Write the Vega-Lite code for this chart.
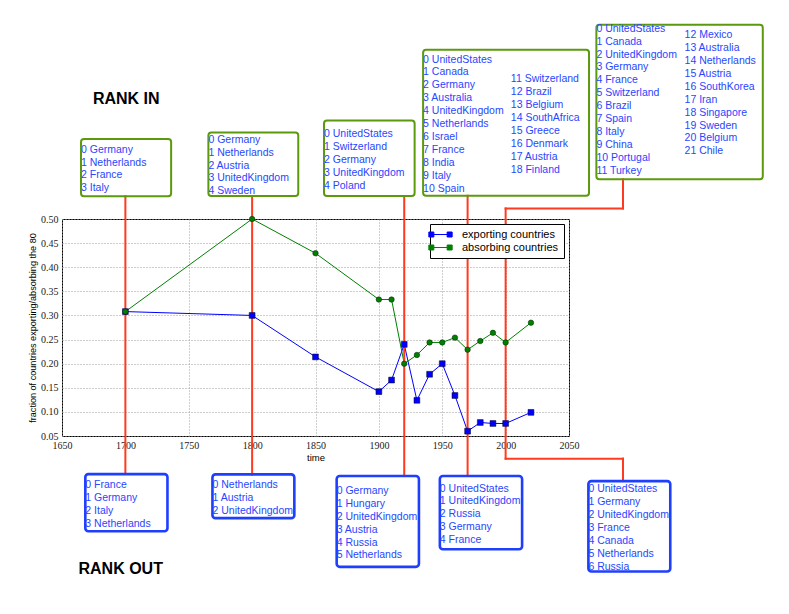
{
  "$schema": "https://vega.github.io/schema/vega-lite/v6.json",
  "width": 507,
  "height": 217,
  "autosize": {"type": "none"},
  "padding": {"left": 62, "top": 219, "right": 220, "bottom": 178},
  "background": "white",
  "config": {
    "view": {"stroke": "#000000", "strokeWidth": 1},
    "axis": {
      "domain": false,
      "ticks": false,
      "grid": true,
      "gridDash": [1, 2],
      "gridColor": "#9a9a9a",
      "gridWidth": 1,
      "labelFont": "Liberation Serif",
      "labelFontSize": 10,
      "labelColor": "#222222",
      "labelFlush": false,
      "labelOverlap": false,
      "titleFont": "Liberation Sans",
      "titleFontWeight": "normal",
      "titleColor": "#000000"
    }
  },
  "datasets": {
    "series": [
      {"year": 1700, "series": "exporting countries", "fraction": 0.308},
      {"year": 1800, "series": "exporting countries", "fraction": 0.300},
      {"year": 1850, "series": "exporting countries", "fraction": 0.214},
      {"year": 1900, "series": "exporting countries", "fraction": 0.142},
      {"year": 1910, "series": "exporting countries", "fraction": 0.166},
      {"year": 1920, "series": "exporting countries", "fraction": 0.240},
      {"year": 1930, "series": "exporting countries", "fraction": 0.124},
      {"year": 1940, "series": "exporting countries", "fraction": 0.178},
      {"year": 1950, "series": "exporting countries", "fraction": 0.200},
      {"year": 1960, "series": "exporting countries", "fraction": 0.134},
      {"year": 1970, "series": "exporting countries", "fraction": 0.060},
      {"year": 1980, "series": "exporting countries", "fraction": 0.078},
      {"year": 1990, "series": "exporting countries", "fraction": 0.076},
      {"year": 2000, "series": "exporting countries", "fraction": 0.076},
      {"year": 2020, "series": "exporting countries", "fraction": 0.099},
      {"year": 1700, "series": "absorbing countries", "fraction": 0.308},
      {"year": 1800, "series": "absorbing countries", "fraction": 0.500},
      {"year": 1850, "series": "absorbing countries", "fraction": 0.429},
      {"year": 1900, "series": "absorbing countries", "fraction": 0.333},
      {"year": 1910, "series": "absorbing countries", "fraction": 0.333},
      {"year": 1920, "series": "absorbing countries", "fraction": 0.200},
      {"year": 1930, "series": "absorbing countries", "fraction": 0.218},
      {"year": 1940, "series": "absorbing countries", "fraction": 0.244},
      {"year": 1950, "series": "absorbing countries", "fraction": 0.244},
      {"year": 1960, "series": "absorbing countries", "fraction": 0.254},
      {"year": 1970, "series": "absorbing countries", "fraction": 0.229},
      {"year": 1980, "series": "absorbing countries", "fraction": 0.247},
      {"year": 1990, "series": "absorbing countries", "fraction": 0.264},
      {"year": 2000, "series": "absorbing countries", "fraction": 0.244},
      {"year": 2020, "series": "absorbing countries", "fraction": 0.285}
    ],
    "boxes": [
      {"box": "in-1700", "kind": "in", "x_from": 1665.0, "x_to": 1736.1, "top": 0.6661, "bottom": 0.5471},
      {"box": "in-1800", "kind": "in", "x_from": 1765.5, "x_to": 1836.4, "top": 0.6792, "bottom": 0.5478},
      {"box": "in-1920", "kind": "in", "x_from": 1856.7, "x_to": 1928.2, "top": 0.7042, "bottom": 0.5478},
      {"box": "in-1970", "kind": "in", "x_from": 1934.9, "x_to": 2065.8, "top": 0.8510, "bottom": 0.5484},
      {"box": "in-2000", "kind": "in", "x_from": 2071.6, "x_to": 2202.9, "top": 0.9029, "bottom": 0.5824},
      {"box": "out-1700", "kind": "out", "x_from": 1668.4, "x_to": 1733.2, "top": -0.0290, "bottom": -0.1474},
      {"box": "out-1800", "kind": "out", "x_from": 1768.7, "x_to": 1833.3, "top": -0.0296, "bottom": -0.1204},
      {"box": "out-1920", "kind": "out", "x_from": 1866.7, "x_to": 1931.6, "top": -0.0331, "bottom": -0.2213},
      {"box": "out-1970", "kind": "out", "x_from": 1948.1, "x_to": 2013.0, "top": -0.0331, "bottom": -0.1847},
      {"box": "out-2000", "kind": "out", "x_from": 2065.3, "x_to": 2129.9, "top": -0.0435, "bottom": -0.2311}
    ],
    "lists": [
      {"box": "in-1700", "list_year": 1665.0, "list_value": 0.6375, "entries": "0 Germany\n1 Netherlands\n2 France\n3 Italy"},
      {"box": "in-1800", "list_year": 1765.5, "list_value": 0.6582, "entries": "0 Germany\n1 Netherlands\n2 Austria\n3 UnitedKingdom\n4 Sweden"},
      {"box": "in-1920", "list_year": 1856.7, "list_value": 0.6701, "entries": "0 UnitedStates\n1 Switzerland\n2 Germany\n3 UnitedKingdom\n4 Poland"},
      {"box": "in-1970", "list_year": 1934.9, "list_value": 0.8244, "entries": "0 UnitedStates\n1 Canada\n2 Germany\n3 Australia\n4 UnitedKingdom\n5 Netherlands\n6 Israel\n7 France\n8 India\n9 Italy\n10 Spain"},
      {"box": "in-1970", "list_year": 2004.1, "list_value": 0.7835, "entries": "11 Switzerland\n12 Brazil\n13 Belgium\n14 SouthAfrica\n15 Greece\n16 Denmark\n17 Austria\n18 Finland"},
      {"box": "in-2000", "list_year": 2071.6, "list_value": 0.8882, "entries": "0 UnitedStates\n1 Canada\n2 UnitedKingdom\n3 Germany\n4 France\n5 Switzerland\n6 Brazil\n7 Spain\n8 Italy\n9 China\n10 Portugal\n11 Turkey"},
      {"box": "in-2000", "list_year": 2141.2, "list_value": 0.8749, "entries": "12 Mexico\n13 Australia\n14 Netherlands\n15 Austria\n16 SouthKorea\n17 Iran\n18 Singapore\n19 Sweden\n20 Belgium\n21 Chile"},
      {"box": "out-1700", "list_year": 1668.4, "list_value": -0.0576, "entries": "0 France\n1 Germany\n2 Italy\n3 Netherlands"},
      {"box": "out-1800", "list_year": 1768.7, "list_value": -0.0576, "entries": "0 Netherlands\n1 Austria\n2 UnitedKingdom"},
      {"box": "out-1920", "list_year": 1866.7, "list_value": -0.0701, "entries": "0 Germany\n1 Hungary\n2 UnitedKingdom\n3 Austria\n4 Russia\n5 Netherlands"},
      {"box": "out-1970", "list_year": 1948.1, "list_value": -0.0651, "entries": "0 UnitedStates\n1 UnitedKingdom\n2 Russia\n3 Germany\n4 France"},
      {"box": "out-2000", "list_year": 2065.3, "list_value": -0.0666, "entries": "0 UnitedStates\n1 Germany\n2 UnitedKingdom\n3 France\n4 Canada\n5 Netherlands\n6 Russia"}
    ],
    "connectors": [
      {"link": "1700", "year_a": 1700, "year_b": 1700, "value_a": 0.5471, "value_b": -0.0290},
      {"link": "1800", "year_a": 1800, "year_b": 1800, "value_a": 0.5478, "value_b": -0.0296},
      {"link": "1920", "year_a": 1920, "year_b": 1920, "value_a": 0.5478, "value_b": -0.0331},
      {"link": "1970", "year_a": 1970, "year_b": 1970, "value_a": 0.5484, "value_b": -0.0331},
      {"link": "2000", "year_a": 2092.6, "year_b": 2092.6, "value_a": 0.5824, "value_b": 0.5218},
      {"link": "2000", "year_a": 2092.6, "year_b": 2000, "value_a": 0.5218, "value_b": 0.5218},
      {"link": "2000", "year_a": 2000, "year_b": 2000, "value_a": 0.5218, "value_b": 0.0030},
      {"link": "2000", "year_a": 2000, "year_b": 2092.6, "value_a": 0.0030, "value_b": 0.0030},
      {"link": "2000", "year_a": 2092.6, "year_b": 2092.6, "value_a": 0.0030, "value_b": -0.0435}
    ],
    "headings": [
      {"heading": "RANK IN", "year": 1700.7, "fraction": 0.7486},
      {"heading": "RANK OUT", "year": 1696.3, "fraction": -0.2255}
    ]
  },
  "layer": [
    {
      "data": {"name": "series"},
      "mark": {"type": "line", "strokeWidth": 1},
      "encoding": {
        "x": {"field": "year", "type": "quantitative", "title": "time", "scale": {"domain": [1650, 2050], "nice": false, "zero": false},
              "axis": {"values": [1650, 1700, 1750, 1800, 1850, 1900, 1950, 2000, 2050], "tickCount": 12, "format": "d", "titleFontSize": 9.5, "labelPadding": 4, "titlePadding": 2, "labelOverlap": false}},
        "y": {"field": "fraction", "type": "quantitative", "title": "fraction of countries exporting/absorbing the 80", "scale": {"domain": [0.05, 0.5], "nice": false, "zero": false},
              "axis": {"values": [0.05, 0.1, 0.15, 0.2, 0.25, 0.3, 0.35, 0.4, 0.45, 0.5], "tickCount": 12, "format": ".2f", "titleFontSize": 9.1, "labelPadding": 4, "titlePadding": 3, "labelOverlap": false}},
        "color": {"field": "series", "type": "nominal",
          "scale": {"domain": ["exporting countries", "absorbing countries"], "range": ["#0000ff", "#008000"]},
          "legend": {
            "title": null, "orient": "top-right", "offset": 5,
            "fillColor": "white", "strokeColor": "black", "padding": 5,
            "labelFont": "Liberation Sans", "labelFontSize": 11, "labelColor": "black",
            "symbolSize": 100, "rowPadding": 1, "labelOffset": 16,
            "symbolType": "M-1.83,0H1.83M-2.33,-0.5h1v1h-1zM1.33,-0.5h1v1h-1z",
            "symbolStrokeWidth": 1
          }
        }
      }
    },
    {
      "data": {"name": "connectors"},
      "mark": {"type": "rule", "color": "#ff3b1f", "strokeWidth": 2, "strokeCap": "square"},
      "encoding": {
        "x": {"field": "year_a", "type": "quantitative", "title": "time", "scale": {"domain": [1650, 2050], "nice": false, "zero": false}},
        "x2": {"field": "year_b"},
        "y": {"field": "value_a", "type": "quantitative", "title": "fraction of countries exporting/absorbing the 80", "scale": {"domain": [0.05, 0.5], "nice": false, "zero": false}},
        "y2": {"field": "value_b"}
      }
    },
    {
      "data": {"name": "series"},
      "transform": [{"filter": "datum.series === 'exporting countries'"}],
      "mark": {"type": "point", "shape": "square", "filled": true, "opacity": 1, "stroke": "#000020", "strokeWidth": 0.5, "size": 34},
      "encoding": {
        "x": {"field": "year", "type": "quantitative", "title": "time", "scale": {"domain": [1650, 2050], "nice": false, "zero": false}},
        "y": {"field": "fraction", "type": "quantitative", "title": "fraction of countries exporting/absorbing the 80", "scale": {"domain": [0.05, 0.5], "nice": false, "zero": false}},
        "color": {"field": "series", "type": "nominal"}
      }
    },
    {
      "data": {"name": "series"},
      "transform": [{"filter": "datum.series === 'absorbing countries'"}],
      "mark": {"type": "point", "shape": "circle", "filled": true, "opacity": 1, "stroke": "#002000", "strokeWidth": 0.5, "size": 30},
      "encoding": {
        "x": {"field": "year", "type": "quantitative", "title": "time", "scale": {"domain": [1650, 2050], "nice": false, "zero": false}},
        "y": {"field": "fraction", "type": "quantitative", "title": "fraction of countries exporting/absorbing the 80", "scale": {"domain": [0.05, 0.5], "nice": false, "zero": false}},
        "color": {"field": "series", "type": "nominal"}
      }
    },
    {
      "data": {"name": "boxes"},
      "transform": [{"filter": "datum.kind === 'in'"}],
      "mark": {"type": "rect", "filled": false, "stroke": "#5b9a0c", "strokeWidth": 2, "cornerRadius": 3},
      "encoding": {
        "x": {"field": "x_from", "type": "quantitative", "title": "time", "scale": {"domain": [1650, 2050], "nice": false, "zero": false}},
        "x2": {"field": "x_to"},
        "y": {"field": "top", "type": "quantitative", "title": "fraction of countries exporting/absorbing the 80", "scale": {"domain": [0.05, 0.5], "nice": false, "zero": false}},
        "y2": {"field": "bottom"}
      }
    },
    {
      "data": {"name": "boxes"},
      "transform": [{"filter": "datum.kind === 'out'"}],
      "mark": {"type": "rect", "filled": false, "stroke": "#1f3fff", "strokeWidth": 2.6, "cornerRadius": 3},
      "encoding": {
        "x": {"field": "x_from", "type": "quantitative", "title": "time", "scale": {"domain": [1650, 2050], "nice": false, "zero": false}},
        "x2": {"field": "x_to"},
        "y": {"field": "top", "type": "quantitative", "title": "fraction of countries exporting/absorbing the 80", "scale": {"domain": [0.05, 0.5], "nice": false, "zero": false}},
        "y2": {"field": "bottom"}
      }
    },
    {
      "data": {"name": "lists"},
      "mark": {"type": "text", "align": "left", "baseline": "alphabetic", "lineBreak": "\n", "lineHeight": 12.9, "font": "Liberation Sans", "fontSize": 10.5, "color": "#2846ff"},
      "encoding": {
        "x": {"field": "list_year", "type": "quantitative", "title": "time", "scale": {"domain": [1650, 2050], "nice": false, "zero": false}},
        "y": {"field": "list_value", "type": "quantitative", "title": "fraction of countries exporting/absorbing the 80", "scale": {"domain": [0.05, 0.5], "nice": false, "zero": false}},
        "text": {"field": "entries", "type": "nominal"}
      }
    },
    {
      "data": {"name": "headings"},
      "mark": {"type": "text", "align": "center", "baseline": "middle", "font": "Liberation Sans", "fontSize": 16, "fontWeight": "bold", "color": "#000000"},
      "encoding": {
        "x": {"field": "year", "type": "quantitative", "title": "time", "scale": {"domain": [1650, 2050], "nice": false, "zero": false}},
        "y": {"field": "fraction", "type": "quantitative", "title": "fraction of countries exporting/absorbing the 80", "scale": {"domain": [0.05, 0.5], "nice": false, "zero": false}},
        "text": {"field": "heading", "type": "nominal"}
      }
    }
  ]
}
